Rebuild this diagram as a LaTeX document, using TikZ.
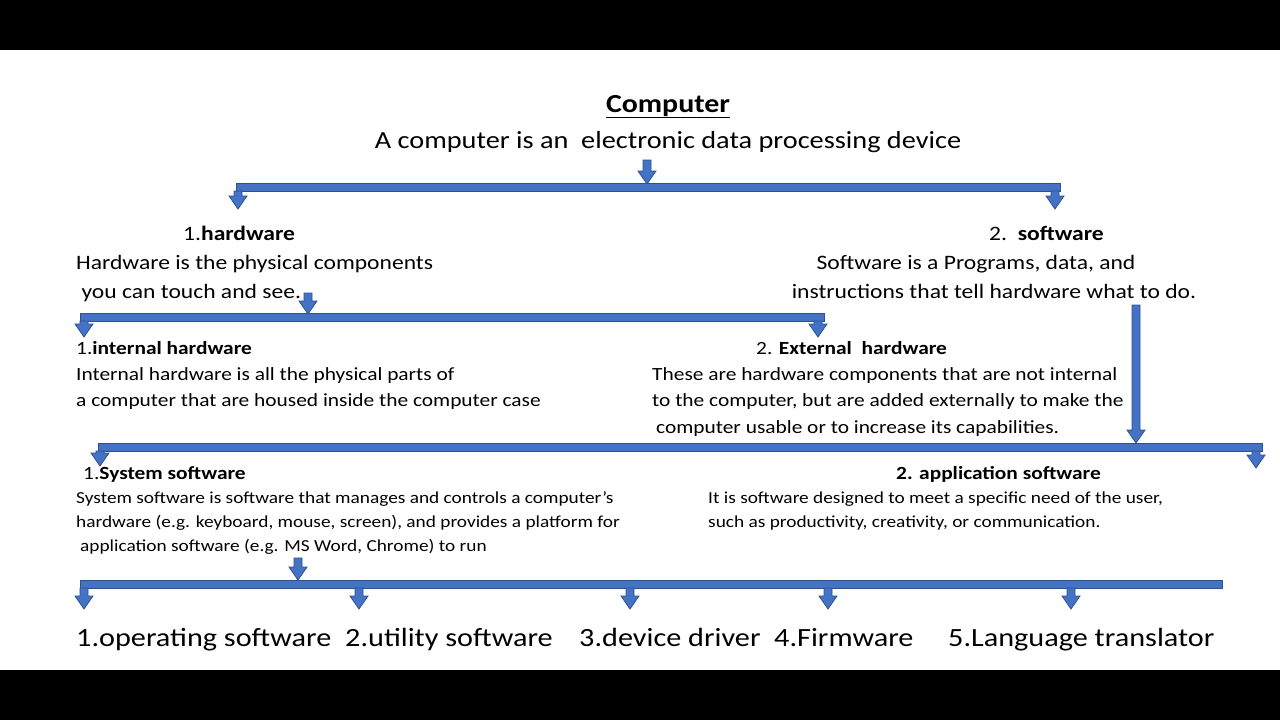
\documentclass[tikz,border=0pt]{standalone}
\usepackage{fontspec}
\setmainfont{Carlito}[FakeStretch=1.15]
\definecolor{barblue}{RGB}{68, 114, 196}
\definecolor{bardark}{RGB}{47, 82, 143}
\tikzset{
  blk/.style={fill=barblue, draw=bardark, line width=0.8pt},
  txt/.style={anchor=base west, inner sep=0pt, font=\fontsize{20.5}{22}\selectfont},
  small/.style={anchor=base west, inner sep=0pt, font=\fontsize{18.6}{20}\selectfont},
  tiny/.style={anchor=base west, inner sep=0pt, font=\fontsize{16.8}{18}\selectfont},
  big/.style={anchor=base west, inner sep=0pt, font=\fontsize{26.3}{28}\selectfont}
}
% down arrow: x, top, bottom
\newcommand{\dnarrow}[3]{%
  \path[blk] (#1-4, #2) -- (#1+4, #2) -- (#1+4, #3-13) -- (#1+9, #3-13)
    -- (#1, #3) -- (#1-9, #3-13) -- (#1-4, #3-13) -- cycle;}
% horizontal bar: left, right, y
\newcommand{\hzbar}[3]{\path[blk] (#1, #3-4) rectangle (#2, #3+4);}

\begin{document}
\begin{tikzpicture}[x=1pt, y=-1pt]

  \fill[black] (0, 0) rectangle (1280, 50);
  \fill[black] (0, 670) rectangle (1280, 720);
  \fill[white] (0, 50) rectangle (1280, 670);

  % title
  \node[anchor=base, inner sep=0pt, font=\fontsize{26}{28}\selectfont\bfseries]
    (title) at (668, 112) {\underline{Computer}};
  \node[anchor=base, inner sep=0pt, font=\fontsize{24.6}{28}\selectfont]
    (def) at (668, 148) {A computer is an\ \ electronic data processing device};

  % level 1
  \dnarrow{647}{160}{184}
  \hzbar{236}{1060}{187}
  \dnarrow{238}{191}{209}
  \dnarrow{1055}{191}{209}

  \node[txt] (hw) at (183, 240) {1.\textbf{hardware}};
  \node[txt] (hw1) at (76, 269) {Hardware is the physical components};
  \node[txt] (hw2) at (76, 298) {\ you can touch and see.};
  \node[txt] (sw) at (989, 240) {2.\ \ \textbf{software}};
  \node[txt, anchor=base] (sw1) at (976, 269) {Software is a Programs, data, and};
  \node[txt, anchor=base] (sw2) at (994, 298) {instructions that tell hardware what to do.};

  % hardware split
  \dnarrow{308}{293}{314}
  \hzbar{80}{824}{317}
  \dnarrow{84}{321}{337}
  \dnarrow{818}{321}{337}

  \node[small] (ih) at (76, 354) {1.\textbf{internal hardware}};
  \node[small] (ih1) at (76, 380) {Internal hardware is all the physical parts of};
  \node[small] (ih2) at (76, 406) {a computer that are housed inside the computer case};
  \node[small] (eh) at (756, 354) {2. \textbf{External\ \ hardware}};
  \node[small] (eh1) at (652, 380) {These are hardware components that are not internal};
  \node[small] (eh2) at (652, 406) {to the computer, but are added externally to make the};
  \node[small] (eh3) at (656, 433) {computer usable or to increase its\ capabilities.};

  % software split
  \dnarrow{1136}{305}{443}
  \hzbar{98}{1262}{447}
  \dnarrow{100}{451}{466}
  \dnarrow{1256}{451}{468}

  \node[small] (ss) at (83, 479) {1.\textbf{System software}};
  \node[tiny] (ss1) at (76, 503)
    {System software is software that manages and controls a computer's};
  \node[tiny] (ss2) at (76, 527)
    {hardware (e.g. keyboard, mouse, screen), and provides a platform for};
  \node[tiny] (ss3) at (80, 551)
    {application software (e.g. MS Word, Chrome) to run};
  \node[small] (as) at (896, 479) {\textbf{2. application software}};
  \node[tiny] (as1) at (708, 503)
    {It is software designed to meet a specific need of the user,};
  \node[tiny] (as2) at (708, 527)
    {such as productivity, creativity, or communication.};

  % system software types
  \dnarrow{298}{558}{580}
  \hzbar{80}{1222}{584}
  \foreach \xa in {84, 359, 630, 828, 1071} {
    \dnarrow{\xa}{588}{609}
  }

  \node[big] (os) at (76, 646) {1.operating software};
  \node[big] (us) at (345, 646) {2.utility software};
  \node[big] (dd) at (579, 646) {3.device driver};
  \node[big] (fw) at (774, 646) {4.Firmware};
  \node[big] (lt) at (948, 646) {5.Language translator};

\end{tikzpicture}
\end{document}
